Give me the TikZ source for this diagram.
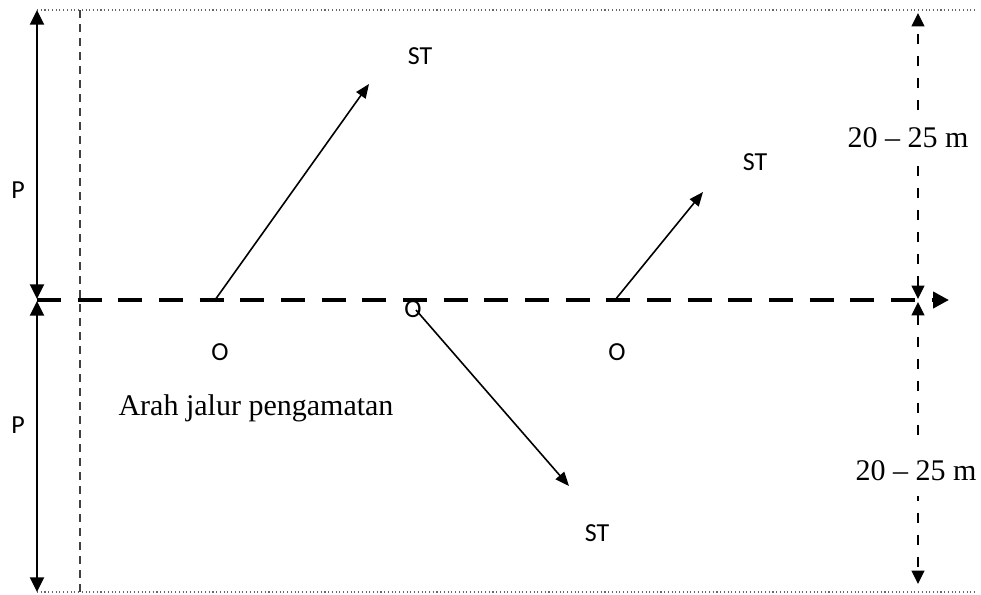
\documentclass[tikz,border=0pt]{standalone}
\usepackage{fontspec}
\setmainfont{Liberation Serif}
\newfontfamily\labfont{Carlito}
\usetikzlibrary{arrows.meta}

\begin{document}
\begin{tikzpicture}[
    x=0.75pt, y=-0.75pt,
    lab/.style={font=\labfont\fontsize{19.5}{22}\selectfont, inner sep=0pt},
    dist/.style={font=\fontsize{22.5}{26}\selectfont, inner xsep=1.5pt,
        inner ysep=11pt, fill=white},
    border/.style={draw=black!60, line width=0.8pt, dotted},
    guide/.style={draw=black!75, line width=1.1pt, dash pattern=on 6pt off 4.5pt},
    track/.style={line width=3pt, dash pattern=on 18pt off 12.5pt,
        -{Triangle[length=12pt,width=12pt]}},
    span/.style={line width=1.6pt, {Triangle[length=11pt,width=10.5pt]}-{Triangle[length=11pt,width=10.5pt]}},
    dspan/.style={line width=1.4pt, dash pattern=on 7.5pt off 9pt,
        {Triangle[length=10pt,width=9.5pt]}-{Triangle[length=10pt,width=9.5pt]}},
    sight/.style={line width=1.2pt, -{Triangle[length=10.5pt,width=8.5pt]}},
]
\useasboundingbox (0,0) rectangle (981,594);

% ===== frame =====
\coordinate (tl) at (37,10);
\coordinate (tr) at (975,10);
\coordinate (bl) at (37,592);
\coordinate (br) at (975,592);
\draw[border] (tl) -- (tr);
\draw[border] (bl) -- (br);

\coordinate (gtop) at (80,10);
\coordinate (gbot) at (80,592);
\draw[guide] (gtop) -- (gbot);

% ===== observation track =====
\coordinate (start) at (37,300);
\coordinate (end)   at (949,300);
\draw[track] (start) -- (end);

% ===== left: P =====
\coordinate (lup)  at (37,10);
\coordinate (lmid1) at (37,299);
\coordinate (lmid2) at (37,301);
\coordinate (ldn)  at (37,592);
\draw[span] (lmid1) -- (lup);
\draw[span] (lmid2) -- (ldn);
\node[lab] (p1) at (18,190) {P};
\node[lab] (p2) at (18,425) {P};

% ===== right: distance =====
\coordinate (rup)  at (918,13);
\coordinate (rmid1) at (918,299);
\coordinate (rmid2) at (918,302);
\coordinate (rdn)  at (918,584);
\draw[dspan] (rmid1) -- (rup);
\draw[dspan] (rmid2) -- (rdn);
% white box hides the dashed span behind the text
\node[dist] (d1) at (908,138) {20 – 25 m};
\node[dist] (d2) at (916,471) {20 – 25 m};

% ===== observers and targets =====
\coordinate (o1) at (215,300);
\coordinate (o2) at (416,310);
\coordinate (o3) at (615,300);

\coordinate (t1) at (369,84);
\coordinate (t2) at (569,486);
\coordinate (t3) at (703,192);

\foreach \a/\b in {o1/t1, o2/t2, o3/t3}
    \draw[sight] (\a) -- (\b);

\node[lab] (ol1) at (220,352) {O};
\node[lab] (ol2) at (413,309) {O};
\node[lab] (ol3) at (617,352) {O};

\node[lab] (st1) at (420,56)  {ST};
\node[lab] (st2) at (597,533) {ST};
\node[lab] (st3) at (755,162) {ST};

\node[dist, fill=none, inner ysep=1.5pt] (dir) at (256,408) {Arah jalur pengamatan};

\end{tikzpicture}
\end{document}
